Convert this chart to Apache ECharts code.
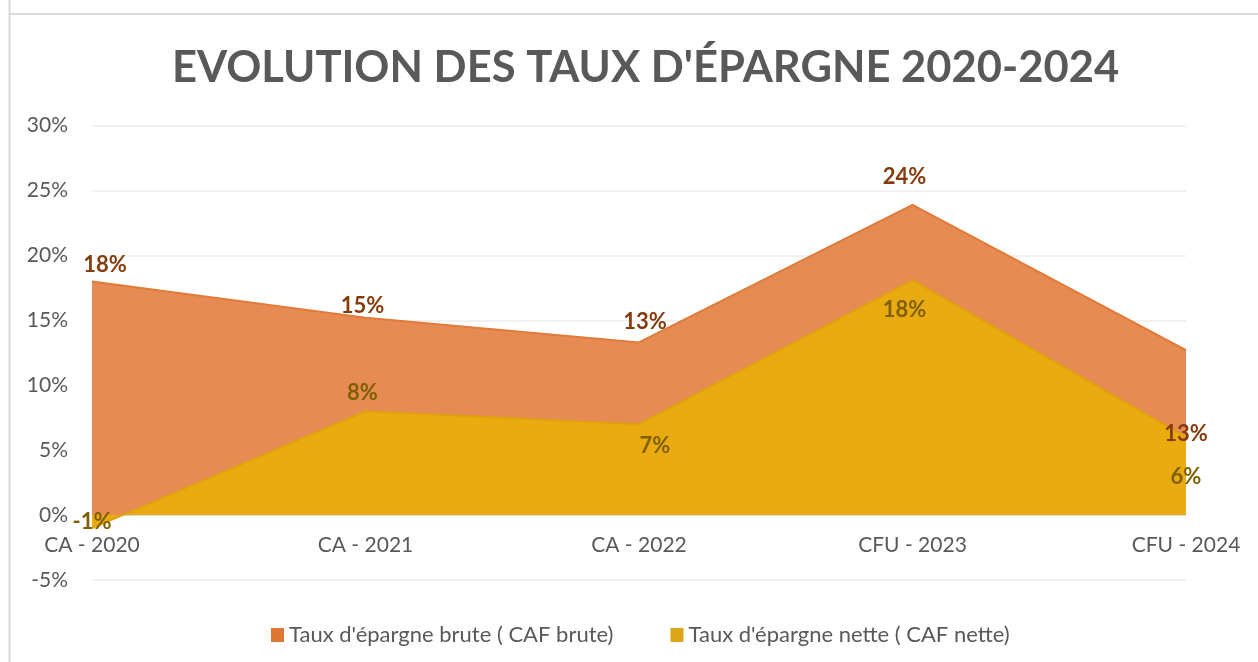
<!DOCTYPE html>
<html>
<head>
<meta charset="utf-8">
<script src="https://cdn.jsdelivr.net/npm/echarts@6/dist/echarts.min.js"></script>
<style>
html,body{margin:0;padding:0;background:#fff;}
#chart{width:1258px;height:662px;}
</style>
</head>
<body>
<div id="chart"></div>
<script>
const categories = ['CA - 2020', 'CA - 2021', 'CA - 2022', 'CFU - 2023', 'CFU - 2024'];
const brute = [18.0, 15.2, 13.3, 23.9, 12.7];
const nette = [-1.0, 8.0, 7.0, 18.1, 6.0];
const seriesNames = ["Taux d'épargne brute ( CAF brute)", "Taux d'épargne nette ( CAF nette)"];
const titleText = "EVOLUTION DES TAUX D'ÉPARGNE 2020-2024";

// label offsets (layout only)
const bruteOffsets = [[13,-17],[-3,-12],[6,-21],[-8,-28],[0,84]];
const netteOffsets = [[0,-6],[-3,-18],[16,22],[-8,30],[0,40]];

const FONT = 'Lato';
const Y_MIN = -5, Y_MAX = 30;
const GRID_TOP = 125.7, GRID_BOTTOM = 82, H = 662;
const gridH = H - GRID_TOP - GRID_BOTTOM;
const zeroOffset = -((0 - Y_MIN) / (Y_MAX - Y_MIN)) * gridH;

const chart = echarts.init(document.getElementById('chart'), null, {renderer:'canvas'});

function buildData(vals, offs){
  return vals.map((v,i)=>({value:v, label:{offset:offs[i]}}));
}
const pct = p => Math.round(p.value) + '%';

const option = {
  backgroundColor:'#ffffff',
  animation:false,
  title:{
    text:titleText,
    left:167,
    top:41,
    textStyle:{fontFamily:FONT, fontSize:43.5, fontWeight:'bold', color:'#595959'}
  },
  graphic:[
    {type:'line', shape:{x1:9.5,y1:0,x2:9.5,y2:662}, style:{stroke:'#d9d9d9', lineWidth:2}},
    {type:'line', shape:{x1:9,y1:14,x2:1258,y2:14}, style:{stroke:'#d9d9d9', lineWidth:2}}
  ],
  legend:{
    top:619,
    left:266,
    itemWidth:13,
    itemHeight:14,
    itemGap:57,
    icon:'rect',
    textStyle:{fontFamily:FONT, fontSize:22, color:'#595959'},
    data:[
      {name:seriesNames[0], itemStyle:{color:'#E07634'}},
      {name:seriesNames[1], itemStyle:{color:'#DBA617'}}
    ]
  },
  grid:{left:92, right:72, top:GRID_TOP, bottom:GRID_BOTTOM},
  xAxis:{
    type:'category',
    data:categories,
    boundaryGap:false,
    offset:zeroOffset,
    axisLine:{show:true, onZero:false, lineStyle:{color:'#d9d9d9'}},
    axisTick:{show:false},
    axisLabel:{fontFamily:FONT, fontSize:21, color:'#595959', margin:20},
    splitLine:{show:false}
  },
  yAxis:{
    type:'value',
    min:Y_MIN, max:Y_MAX, interval:5,
    axisLine:{show:false},
    axisTick:{show:false},
    axisLabel:{fontFamily:FONT, fontSize:21, color:'#595959', margin:24, formatter:'{value}%'},
    splitLine:{lineStyle:{color:'#ececec', width:1.5}}
  },
  series:[
    {
      name:seriesNames[0],
      type:'line',
      data:brute,
      symbol:'none',
      lineStyle:{color:'#E07B39', width:2},
      itemStyle:{color:'#E07634'},
      areaStyle:{color:'#E68B54', opacity:1, origin:0},
      z:2
    },
    {
      name:seriesNames[1],
      type:'line',
      data:nette,
      symbol:'none',
      lineStyle:{color:'#DFA20E', width:2},
      itemStyle:{color:'#DBA617'},
      areaStyle:{color:'#EAAB10', opacity:1, origin:0},
      z:3
    },
    {
      name:'brute-labels',
      type:'line',
      data:buildData(brute, bruteOffsets),
      symbol:'circle',
      symbolSize:0,
      showSymbol:true,
      lineStyle:{width:0, opacity:0},
      itemStyle:{color:'#E07634'},
      label:{show:true, position:'inside', fontFamily:FONT, fontSize:22, fontWeight:'bold', color:'#843C0C', formatter:pct},
      silent:true,
      z:10
    },
    {
      name:'nette-labels',
      type:'line',
      data:buildData(nette, netteOffsets),
      symbol:'circle',
      symbolSize:0,
      showSymbol:true,
      lineStyle:{width:0, opacity:0},
      itemStyle:{color:'#DBA617'},
      label:{show:true, position:'inside', fontFamily:FONT, fontSize:22, fontWeight:'bold', color:'#7F6000', formatter:pct},
      silent:true,
      z:10
    }
  ]
};
chart.setOption(option);
</script>
</body>
</html>
